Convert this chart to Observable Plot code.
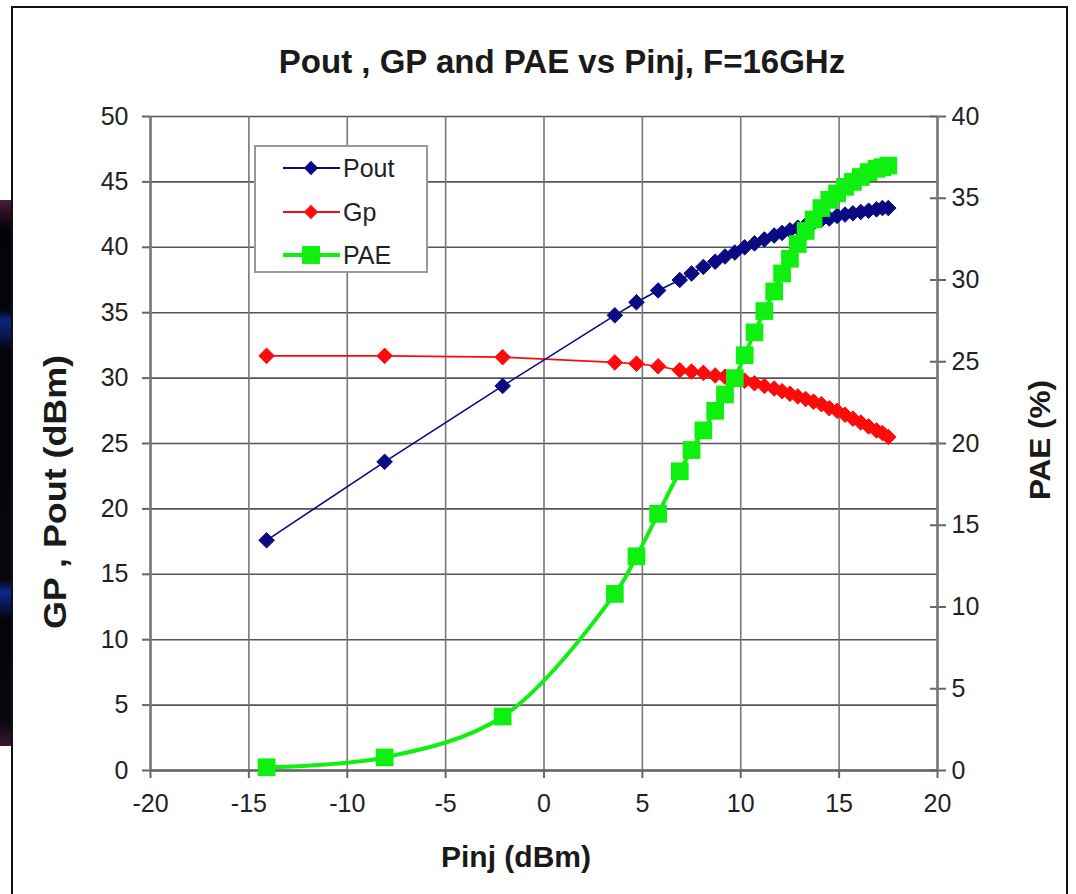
<!DOCTYPE html>
<html><head><meta charset="utf-8">
<script src="https://cdn.jsdelivr.net/npm/d3@7"></script>
<script src="https://cdn.jsdelivr.net/npm/@observablehq/plot@0.6"></script>
<style>
html,body{margin:0;padding:0;background:#fff;width:1076px;height:894px;overflow:hidden;font-family:"Liberation Sans",Arial,sans-serif;}
#strip{position:absolute;left:0;top:200px;width:11px;height:546px;
 background:linear-gradient(#4a1e3a 0px,#2a0c22 14px,#050208 30px,#06040c 110px,#0c2480 120px,#0a1650 135px,#05040a 150px,#08060e 380px,#0e2890 392px,#0a1650 405px,#05030a 420px,#0a0610 520px,#3a1830 546px);}
#frame{position:absolute;left:11px;top:6px;width:1057px;height:900px;border:2px solid #111;box-sizing:border-box;}
#title{position:absolute;left:0;width:1124px;top:43px;text-align:center;font-weight:bold;font-size:33px;color:#1a1a1a;}
#chart{position:absolute;left:0;top:90px;}
.lab{position:absolute;font-weight:bold;font-size:30px;color:#1a1a1a;white-space:nowrap;}
#xlab{left:516px;top:857px;transform:translate(-50%,-50%);}
#ylab{left:55px;top:492px;font-size:32px;transform:translate(-50%,-50%) rotate(-90deg) scaleX(1.12);}
#y2lab{left:1040px;top:440px;transform:translate(-50%,-50%) rotate(-90deg) scaleX(1.05);}
#legend{position:absolute;left:254px;top:145px;width:174px;height:128px;border:2px solid #999;box-sizing:border-box;background:#fff;}
#legend svg{position:absolute;left:0;top:0;}
</style></head>
<body>
<div id="strip"></div>
<div id="frame"></div>
<div id="title">Pout , GP and PAE vs Pinj, F=16GHz</div>
<div id="chart"></div>
<div class="lab" id="xlab">Pinj (dBm)</div>
<div class="lab" id="ylab">GP , Pout (dBm)</div>
<div class="lab" id="y2lab">PAE (%)</div>
<div id="legend"></div>
<script>
// ---- data ----
const pinj = [-14.1, -8.1, -2.1, 3.6, 4.7, 5.8, 6.9, 7.5, 8.1, 8.7, 9.2, 9.7, 10.2, 10.7, 11.2, 11.7, 12.1, 12.5, 12.9, 13.3, 13.7, 14.1, 14.5, 14.9, 15.3, 15.7, 16.1, 16.5, 16.9, 17.2, 17.5];
const pout = [17.6, 23.6, 29.4, 34.8, 35.8, 36.7, 37.5, 38.0, 38.5, 38.9, 39.3, 39.6, 40.0, 40.3, 40.6, 40.9, 41.1, 41.3, 41.5, 41.7, 41.9, 42.1, 42.2, 42.4, 42.5, 42.6, 42.7, 42.8, 42.9, 43.0, 43.0];
const gp   = [31.7, 31.7, 31.6, 31.2, 31.1, 30.9, 30.6, 30.5, 30.4, 30.2, 30.1, 29.9, 29.8, 29.6, 29.4, 29.2, 29.0, 28.8, 28.6, 28.4, 28.2, 28.0, 27.7, 27.5, 27.2, 26.9, 26.6, 26.3, 26.0, 25.8, 25.5];
const pae  = [0.2, 0.8, 3.3, 10.8, 13.1, 15.7, 18.3, 19.6, 20.8, 22.0, 23.0, 24.0, 25.4, 26.8, 28.1, 29.3, 30.4, 31.3, 32.2, 33.0, 33.7, 34.4, 34.9, 35.3, 35.7, 36.0, 36.3, 36.6, 36.8, 36.9, 37.0];
const xTicks = [-20, -15, -10, -5, 0, 5, 10, 15, 20];
const yTicks = [0, 5, 10, 15, 20, 25, 30, 35, 40, 45, 50];
const y2Ticks = [0, 5, 10, 15, 20, 25, 30, 35, 40];
const seriesNames = ["Pout", "Gp", "PAE"];
const seriesColors = ["#0a0a82", "#ff0a0a", "#10f010"];

const ratio = 50 / 40; // right axis (PAE %) -> left axis units
const rows = pinj.map((x, i) => ({x, pout: pout[i], gp: gp[i], pae: pae[i]}));

const chart = Plot.plot({
  width: 1076, height: 800,
  marginLeft: 150, marginRight: 139, marginTop: 26, marginBottom: 120,
  x: {domain: [-20, 20]},
  y: {domain: [0, 50]},
  style: {fontFamily: "Liberation Sans, Arial, sans-serif", fontSize: "25px", color: "#222", background: "transparent"},
  marks: [
    Plot.gridY(yTicks, {stroke: "#555", strokeOpacity: 1, strokeWidth: 1.6}),
    Plot.gridX(xTicks, {stroke: "#777", strokeOpacity: 1, strokeWidth: 1.6}),
    Plot.axisX(xTicks, {tickSize: 8, tickPadding: 16, stroke: "#666", strokeWidth: 2, label: null, fill: "#222", tickFormat: d => String(d)}),
    Plot.axisY(yTicks, {tickSize: 8, tickPadding: 14, stroke: "#666", strokeWidth: 2, label: null, fill: "#222", tickFormat: d => String(d)}),
    Plot.axisY(y2Ticks.map(v => v * ratio), {anchor: "right", tickSize: 16, dx: -8, tickPadding: 6, stroke: "#666", strokeWidth: 2, label: null, fill: "#222", tickFormat: d => String(Math.round(d / ratio))}),
    Plot.ruleX([-20, 20], {stroke: "#777", strokeWidth: 2.5}),
    Plot.ruleY([0], {stroke: "#666", strokeWidth: 2.5}),
    Plot.line(rows, {x: "x", y: "gp", stroke: seriesColors[1], strokeWidth: 1.6}),
    Plot.dot(rows, {x: "x", y: "gp", symbol: "diamond2", r: 7, fill: seriesColors[1], stroke: seriesColors[1], strokeWidth: 1}),
    Plot.line(rows, {x: "x", y: "pout", stroke: seriesColors[0], strokeWidth: 1.6}),
    Plot.dot(rows, {x: "x", y: "pout", symbol: "diamond2", r: 7, fill: seriesColors[0], stroke: seriesColors[0], strokeWidth: 1}),
    Plot.line(rows, {x: "x", y: d => d.pae * ratio, stroke: seriesColors[2], strokeWidth: 4, curve: "catmull-rom"}),
    Plot.dot(rows, {x: "x", y: d => d.pae * ratio, symbol: "square", r: 10, fill: seriesColors[2], stroke: "none"})
  ]
});
document.getElementById("chart").appendChild(chart);

// ---- legend ----
const lg = d3.select("#legend").append("svg").attr("width", 174).attr("height", 128);
const rowY = [21, 65, 108];
const sym = [d3.symbol(d3.symbolDiamond2, 130), d3.symbol(d3.symbolDiamond2, 130), d3.symbol(d3.symbolSquare, 320)];
seriesNames.forEach((name, i) => {
  const g = lg.append("g").attr("transform", `translate(0,${rowY[i]})`);
  g.append("line").attr("x1", 27).attr("x2", 84).attr("stroke", seriesColors[i]).attr("stroke-width", i === 2 ? 4 : 1.8);
  g.append("path").attr("d", sym[i]()).attr("transform", "translate(55,0)").attr("fill", seriesColors[i]);
  g.append("text").attr("x", 87).attr("dy", "0.35em").attr("font-size", 25).attr("fill", "#222")
    .attr("font-family", "Liberation Sans, Arial, sans-serif").text(name);
});
</script>
</body></html>
